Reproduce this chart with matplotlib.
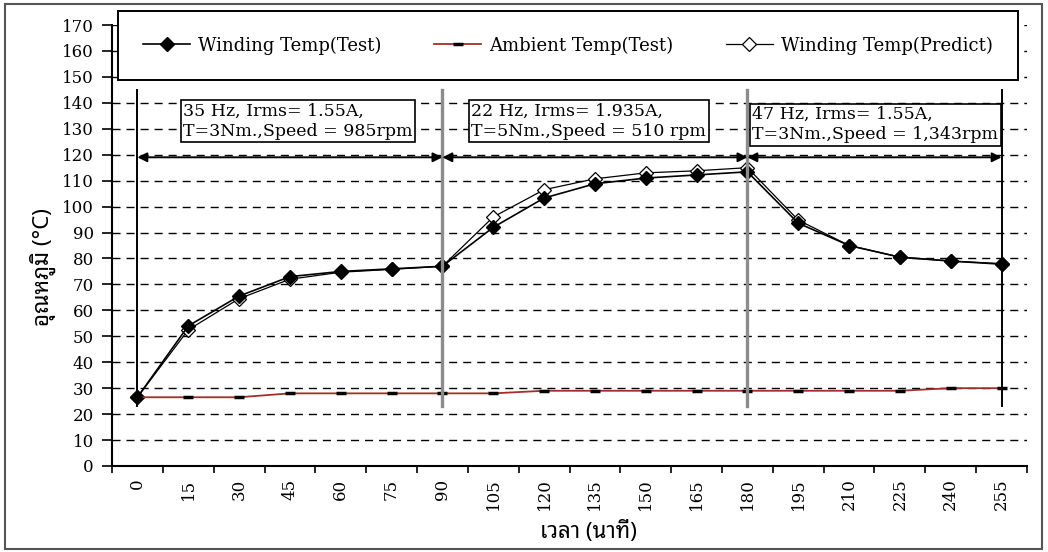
import matplotlib
matplotlib.use('Agg')
import matplotlib.pyplot as plt
import numpy as np

# time axis (minutes) and measured / predicted temperatures (deg C)
times = [0, 15, 30, 45, 60, 75, 90, 105, 120, 135, 150, 165, 180, 195, 210, 225, 240, 255]
winding_test = [26.5, 54, 65.5, 73, 75, 76, 77, 92, 103.3, 108.8, 111, 112.2, 113.4, 93.6, 85, 80.5, 79, 77.8]
ambient_test = [26.5, 26.5, 26.5, 28, 28, 28, 28, 28, 29, 29, 29, 29, 29, 29, 29, 29, 30, 30]
winding_pred = [26.5, 52.5, 64.5, 72, 74.7, 75.8, 77, 96, 106.5, 110.7, 113, 113.8, 115, 94.8, 85, 80.5, 79, 78]

# test conditions for each stage
segments = [0, 90, 180, 255]
seg_text = ['35 Hz, Irms= 1.55A,\nT=3Nm.,Speed = 985rpm',
            '22 Hz, Irms= 1.935A,\nT=5Nm.,Speed = 510 rpm',
            '47 Hz, Irms= 1.55A,\nT=3Nm.,Speed = 1,343rpm']

serif = 'DejaVu Serif'
thai = ['Noto Sans Thai Looped', 'Loma', 'Noto Sans Thai', 'DejaVu Sans']

fig = plt.figure(figsize=(10.48, 5.52), dpi=100)
ax = fig.add_axes([112/1048, 1-466/552, (1027-112)/1048, (466-25)/552])

x = np.arange(len(times))
ax.set_xlim(-0.5, len(times) - 0.5)
ax.set_ylim(0, 170)

for v in range(10, 171, 10):
    ax.axhline(v, color='black', lw=1, dashes=(5.8, 4.3), zorder=1)

l1, = ax.plot(x, winding_test, color='black', lw=1.2, marker='D', ms=7, mfc='black', mec='black',
              zorder=4, label='Winding Temp(Test)')
l2, = ax.plot(x, ambient_test, color='#a0302a', lw=1.3, marker='_', ms=7, mec='black', mew=2.5,
              zorder=4, label='Ambient Temp(Test)')
l3, = ax.plot(x, winding_pred, color='black', lw=0.9, marker='D', ms=7, mfc='white', mec='black', mew=0.9,
              zorder=3, label='Winding Temp(Predict)')

# stage boundaries
seg_idx = [times.index(s) for s in segments]
for k, i in enumerate(seg_idx):
    inner = 0 < k < len(seg_idx) - 1
    ax.plot([i, i], [23, 145], color='#8c8c8c' if inner else 'black', lw=2.4 if inner else 1.4, zorder=5)

for a, b in zip(seg_idx[:-1], seg_idx[1:]):
    ax.annotate('', xy=(b, 119), xytext=(a, 119),
                arrowprops=dict(arrowstyle='<|-|>', color='black', lw=1.4, shrinkA=0, shrinkB=0,
                                mutation_scale=14), zorder=6)

box_x = [0.9, 6.57, 12.1]
box_y = [133, 133, 131.5]
for bx, by, t in zip(box_x, box_y, seg_text):
    ax.text(bx, by, t, family=serif, fontsize=12.5, va='center', ha='left', linespacing=1.25, zorder=7,
            bbox=dict(boxstyle='square,pad=0.15', fc='white', ec='black', lw=1.2))

ax.spines['top'].set_visible(False)
ax.spines['right'].set_visible(False)
ax.spines['left'].set_linewidth(1.5)
ax.spines['bottom'].set_linewidth(1.5)

# category axis: ticks between categories, labels on categories
ax.set_xticks(np.arange(-0.5, len(times), 1))
ax.set_xticklabels([])
ax.set_xticks(x, minor=True)
ax.set_xticklabels([str(t) for t in times], minor=True, rotation=90, family=serif, fontsize=12)
ax.tick_params(axis='x', which='minor', length=0, pad=9)
ax.tick_params(axis='x', which='major', length=5, width=1.2, direction='out')
ax.set_yticks(range(0, 171, 10))
ax.set_yticklabels([str(v) for v in range(0, 171, 10)], family=serif, fontsize=12)
ax.tick_params(axis='y', length=7, width=1.2, direction='out', pad=6)

ax.set_xlabel('เวลา (นาที)', family=thai, fontsize=16)
ax.xaxis.set_label_coords((588-112)/915, (466-521)/441)
ax.set_ylabel('อุณหภูมิ (°C)', family=thai, fontsize=16)
ax.yaxis.set_label_coords((56-112)/915, (466-267)/441)

leg = ax.legend(handles=[l1, l2, l3], ncol=3, loc='upper left', mode='expand',
                bbox_to_anchor=((118-112)/915, (466-11)/441 - 0.2, (1018-118)/915, 0.2),
                prop={'family': serif, 'size': 13}, frameon=True, fancybox=False, edgecolor='black',
                framealpha=1, borderpad=1.4, borderaxespad=0, handlelength=2.6, handletextpad=0.45)
leg.get_frame().set_linewidth(1.4)
leg.set_zorder(10)

fig.patches.append(plt.Rectangle((5/1048, 3/552), 1037/1048, 545/552, transform=fig.transFigure,
                                 fill=False, ec='#555555', lw=1.5))

fig.savefig('out.png', dpi=100)
